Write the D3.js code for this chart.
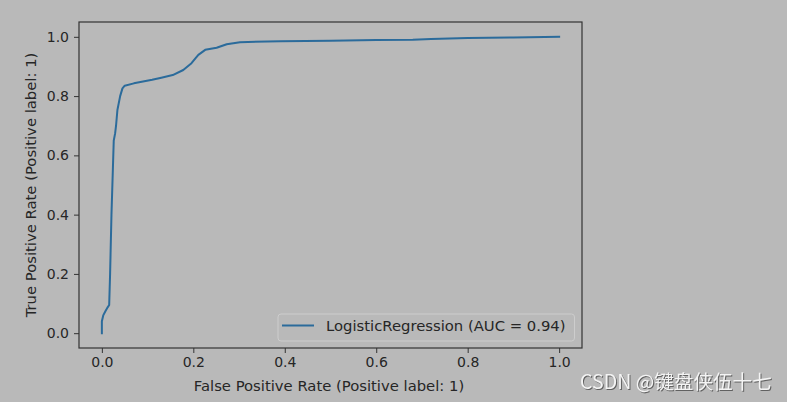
<!DOCTYPE html>
<html><head><meta charset="utf-8">
<script src="https://cdn.jsdelivr.net/npm/d3@7/dist/d3.min.js"></script>
<style>
html,body{margin:0;padding:0;background:#b9b9b9;}
svg{display:block;}
</style></head>
<body>
<svg id="chart" width="787" height="402"></svg>
<script>
const fpr = [0, 0, 0.003, 0.008, 0.013, 0.016, 0.018, 0.021, 0.024, 0.026, 0.029, 0.031, 0.034, 0.040, 0.045, 0.050, 0.07, 0.09, 0.11, 0.13, 0.155, 0.178, 0.196, 0.205, 0.211, 0.226, 0.251, 0.273, 0.302, 0.39, 0.5, 0.6, 0.68, 0.72, 0.8, 0.9, 1.0];
const tpr = [0, 0.04, 0.06, 0.075, 0.088, 0.095, 0.2, 0.4, 0.55, 0.65, 0.674, 0.70, 0.753, 0.80, 0.826, 0.835, 0.843, 0.849, 0.855, 0.862, 0.871, 0.888, 0.911, 0.928, 0.939, 0.956, 0.963, 0.975, 0.982, 0.985, 0.987, 0.989, 0.99, 0.993, 0.996, 0.998, 1.0];
const xTicks = [0.0, 0.2, 0.4, 0.6, 0.8, 1.0];
const yTicks = [0.0, 0.2, 0.4, 0.6, 0.8, 1.0];
const seriesName = "LogisticRegression (AUC = 0.94)";
const xLabel = "False Positive Rate (Positive label: 1)";
const yLabel = "True Positive Rate (Positive label: 1)";
const watermark = "CSDN @键盘侠伍十七";

const svg = d3.select("#chart");
const L = 79, R = 582, T = 22, B = 348;
const x = d3.scaleLinear().domain([-0.05, 1.05]).range([L, R]);
const y = d3.scaleLinear().domain([-0.05, 1.05]).range([B, T]);
const font = "DejaVu Sans, sans-serif";
const txt = "#262626";
const fsTick = 14, fsLab = 14.8;

const line = d3.line().x((d, i) => x(fpr[i])).y((d, i) => y(tpr[i]));
svg.append("path").datum(fpr).attr("d", line)
  .attr("fill", "none").attr("stroke", "#2b6b9b").attr("stroke-width", 2).attr("stroke-linejoin","round").attr("stroke-linecap","square");

const xAxis = svg.append("g").attr("transform", `translate(0,${B})`)
  .call(d3.axisBottom(x).tickValues(xTicks).tickFormat(d3.format(".1f")).tickSize(5).tickPadding(4));
const yAxis = svg.append("g").attr("transform", `translate(${L},0)`)
  .call(d3.axisLeft(y).tickValues(yTicks).tickFormat(d3.format(".1f")).tickSize(5).tickPadding(5));
[xAxis, yAxis].forEach(g => {
  g.select(".domain").remove();
  g.selectAll(".tick line").attr("stroke", "#333").attr("stroke-width", 1);
  g.selectAll(".tick text").attr("fill", txt).attr("font-family", font).attr("font-size", fsTick);
});

svg.append("rect").attr("x", L).attr("y", T).attr("width", R - L).attr("height", B - T)
  .attr("fill", "none").attr("stroke", "#333").attr("stroke-width", 1.2);

svg.append("text").attr("x", 329).attr("y", 391).attr("text-anchor", "middle")
  .attr("font-family", font).attr("font-size", fsLab).attr("fill", txt).text(xLabel);
svg.append("text").attr("transform", `translate(36,${(T + B) / 2}) rotate(-90)`).attr("text-anchor", "middle")
  .attr("font-family", font).attr("font-size", fsLab).attr("fill", txt).text(yLabel);

// legend
const lg = svg.append("g");
lg.append("rect").attr("x", 278).attr("y", 314).attr("width", 296.5).attr("height", 27).attr("rx", 3)
  .attr("fill", "#b9b9b9").attr("stroke", "#cdcdcd").attr("stroke-width", 1);
lg.append("line").attr("x1", 282).attr("x2", 314).attr("y1", 325.5).attr("y2", 325.5)
  .attr("stroke", "#2b6b9b").attr("stroke-width", 2);
lg.append("text").attr("x", 326).attr("y", 331).attr("font-family", font).attr("font-size", fsLab)
  .attr("fill", txt).text(seriesName);

// watermark
svg.append("text").attr("x", 580).attr("y", 389).attr("font-family", "Noto Sans CJK SC, sans-serif")
  .attr("font-size", 19.6).attr("fill", "#f4f4f4")
  .style("filter", "drop-shadow(1px 1px 0.5px rgba(60,60,60,0.7))").text(watermark);
</script>
</body></html>
